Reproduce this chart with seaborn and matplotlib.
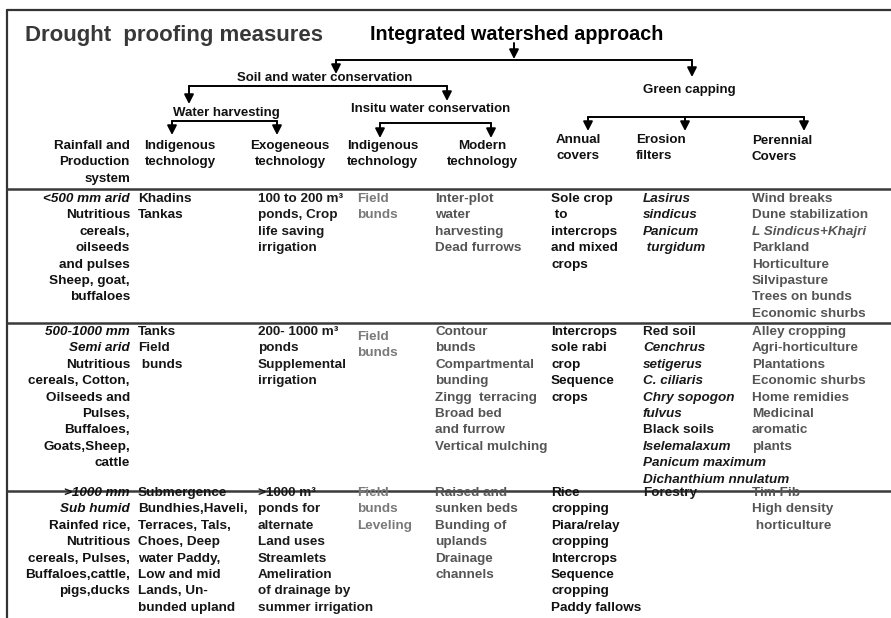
import numpy as np
import pandas as pd
import matplotlib
matplotlib.use("Agg")
import matplotlib.pyplot as plt
import seaborn as sns

# ---- text content ----
title_left = "Drought  proofing measures"
title_main = "Integrated watershed approach"
tree_nodes = ["Soil and water conservation", "Green capping",
              "Water harvesting", "Insitu water conservation"]

col_headers = [["Rainfall and", "Production", "system"],
               ["Indigenous", "technology"],
               ["Exogeneous", "technology"],
               ["Indigenous", "technology"],
               ["Modern", "technology"],
               ["Annual", "covers"],
               ["Erosion", "filters"],
               ["Perennial", "Covers"]]

rainfall = [["<500 mm arid", "Nutritious", "cereals,", "oilseeds", "and pulses",
             "Sheep, goat,", "buffaloes"],
            ["500-1000 mm", "Semi arid", "Nutritious", "cereals, Cotton,",
             "Oilseeds and", "Pulses,", "Buffaloes,", "Goats,Sheep,", "cattle"],
            [">1000 mm", "Sub humid", "Rainfed rice,", "Nutritious",
             "cereals, Pulses,", "Buffaloes,cattle,", "pigs,ducks"]]
wh_indigenous = [["Khadins", "Tankas"],
                 ["Tanks", "Field", " bunds"],
                 ["Submergence", "Bundhies,Haveli,", "Terraces, Tals,", "Choes, Deep",
                  "water Paddy,", "Low and mid", "Lands, Un-", "bunded upland"]]
wh_exogeneous = [["100 to 200 m\u00b3", "ponds, Crop", "life saving", "irrigation"],
                 ["200- 1000 m\u00b3", "ponds", "Supplemental", "irrigation"],
                 [">1000 m\u00b3", "ponds for", "alternate", "Land uses", "Streamlets",
                  "Ameliration", "of drainage by", "summer irrigation"]]
insitu_indigenous = [["Field", "bunds"],
                     ["Field", "bunds"],
                     ["Field", "bunds", "Leveling"]]
insitu_modern = [["Inter-plot", "water", "harvesting", "Dead furrows"],
                 ["Contour", "bunds", "Compartmental", "bunding", "Zingg  terracing",
                  "Broad bed", "and furrow", "Vertical mulching"],
                 ["Raised and", "sunken beds", "Bunding of", "uplands", "Drainage",
                  "channels"]]
annual_covers = [["Sole crop", " to", "intercrops", "and mixed", "crops"],
                 ["Intercrops", "sole rabi", "crop", "Sequence", "crops"],
                 ["Rice", "cropping", "Piara/relay", "cropping", "Intercrops",
                  "Sequence", "cropping", "Paddy fallows"]]
erosion_filters = [["Lasirus", "sindicus", "Panicum", " turgidum"],
                   ["Red soil", "Cenchrus", "setigerus", "C. ciliaris", "Chry sopogon",
                    "fulvus", "Black soils", "Iselemalaxum", "Panicum maximum",
                    "Dichanthium nnulatum"],
                   ["Forestry"]]
perennial_covers = [["Wind breaks", "Dune stabilization", "L Sindicus+Khajri", "Parkland",
                     "Horticulture", "Silvipasture", "Trees on bunds", "Economic shurbs"],
                    ["Alley cropping", "Agri-horticulture", "Plantations",
                     "Economic shurbs", "Home remidies", "Medicinal", "aromatic", "plants"],
                    ["Tim Fib", "High density", " horticulture"]]

columns = [rainfall, wh_indigenous, wh_exogeneous, insitu_indigenous,
           insitu_modern, annual_covers, erosion_filters, perennial_covers]

italic_text = {"<500 mm arid", "500-1000 mm", "Semi arid", ">1000 mm", "Sub humid",
               "Lasirus", "sindicus", "Panicum", " turgidum", "L Sindicus+Khajri",
               "Cenchrus", "setigerus", "C. ciliaris", "Chry sopogon", "fulvus",
               "Iselemalaxum", "Panicum maximum", "Dichanthium nnulatum"}

# ---- layout (pixel coordinates) ----
W, H = 891, 618
col_x = [130, 138, 258, 357, 435, 551, 643, 752]
col_ha = ["right"] + ["left"] * 7
col_color = ["#111111", "#151515", "#1a1a1a", "#7a7a7a", "#555555",
             "#111111", "#1a1a1a", "#555555"]
row_y = [199, 332, 493]
cell_dy = {(1, 3): 5}
line_h = 16.4
header_x = [130, 180, 290, 347, 482, 578, 636, 752]
header_ha = ["right", "center", "center", "left", "center", "center", "left", "left"]
header_y = [146, 146, 146, 146, 146, 140, 140, 141]
node_xy = [(325, 78), (689, 90), (226, 113), (431, 109)]
# (bar y, [(drop x, drop end y), ...])
branches = [(60, [(336, 74), (692, 77)]),
            (86, [(189, 104), (447, 101)]),
            (121, [(172, 135), (277, 135)]),
            (123, [(380, 138), (491, 138)]),
            (117, [(588, 131), (685, 131), (804, 131)])]
separators = [189, 323, 491]

sns.set_style("white")
plt.rcParams["font.family"] = ["Liberation Sans", "DejaVu Sans"]

fig = plt.figure(figsize=(W / 100, H / 100), dpi=100)
ax = fig.add_axes([0, 0, 1, 1])
ax.set_xlim(0, W)
ax.set_ylim(H, 0)
ax.axis("off")

# frame and separators
ax.plot([7, 7], [10, H], color="#333333", lw=1.6)
ax.plot([7, W], [10, 10], color="#333333", lw=1.6)
for y in separators:
    ax.plot([7, W], [y, y], color="#3a3a3a", lw=1.8)

# titles
ax.text(25, 36, title_left, fontsize=16, fontweight="bold", color="#383838",
        ha="left", va="center")
ax.text(517, 34, title_main, fontsize=14.2, fontweight="bold", color="black",
        ha="center", va="center")

arrow = dict(arrowstyle="-|>,head_length=0.55,head_width=0.28", color="black",
             lw=1.4, shrinkA=0, shrinkB=0)
ax.annotate("", xy=(514, 59), xytext=(514, 43), arrowprops=arrow)
for ybar, drops in branches:
    xs = [d[0] for d in drops]
    ax.plot([min(xs), max(xs)], [ybar, ybar], color="black", lw=1.4)
    for x, yend in drops:
        ax.annotate("", xy=(x, yend), xytext=(x, ybar), arrowprops=arrow)

for label, (x, y) in zip(tree_nodes, node_xy):
    ax.text(x, y, label, fontsize=9.5, fontweight="bold", color="#111111",
            ha="center", va="center")

for lines, x, ha, y0 in zip(col_headers, header_x, header_ha, header_y):
    for i, s in enumerate(lines):
        ax.text(x, y0 + i * line_h, s, fontsize=9.6, fontweight="bold",
                color="#111111", ha=ha, va="center")

for c, col in enumerate(columns):
    for r, cell in enumerate(col):
        y0 = row_y[r] + cell_dy.get((r, c), 0)
        for i, s in enumerate(cell):
            ax.text(col_x[c], y0 + i * line_h, s, fontsize=9.7, fontweight="bold",
                    fontstyle="italic" if s in italic_text else "normal",
                    color=col_color[c], ha=col_ha[c], va="center")

fig.savefig("out.png", dpi=100, facecolor="white")
